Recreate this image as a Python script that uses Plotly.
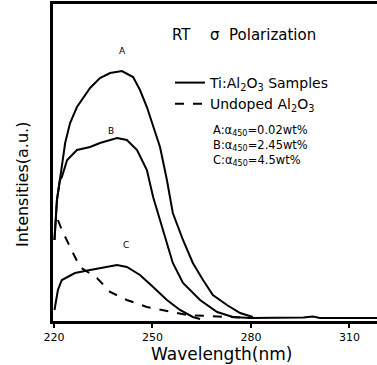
import plotly.graph_objects as go

# Wavelength (nm) / intensity (a.u.)
a_x = [220.15, 220.9, 221.8, 222.4, 223.4, 224.9, 227.0, 231.0, 234.0, 237.1, 240.7, 244.1, 246.2, 248.3,
       250.2, 252.3, 254.4, 256.2, 259.3, 262.3, 265.4, 268.4, 272.7, 276.7, 280.6]
a_y = [81, 121, 141, 154, 178, 198, 214, 233, 243, 248, 250, 244, 231, 214,
       194, 174, 141, 108, 81, 58, 41, 26, 16, 8, 4]

b_x = [220.15, 220.9, 221.8, 222.4, 224.0, 227.0, 231.0, 234.0, 239.2, 242.2, 245.3, 248.3,
       250.2, 253.2, 256.2, 259.3, 264.5, 269.7, 274.5, 279.7]
b_y = [81, 121, 141, 144, 161, 171, 174, 178, 183, 181, 171, 151,
       124, 91, 58, 38, 21, 9, 4, 3]

c_x = [220.15, 220.3, 221.2, 222.4, 224.0, 226.4, 231.0, 235.5, 239.2, 242.2, 246.2, 250.2,
       254.4, 258.4, 262.3, 264.5]
c_y = [11, 14, 31, 41, 44, 48, 51, 54, 56, 54, 46, 34,
       21, 11, 4, 2]

und_x = [221.2, 222.4, 224.9, 227.9, 233.1, 237.1, 242.2, 248.3, 254.4, 260.5, 266.6, 274.5, 279.7]
und_y = [101, 91, 74, 54, 43, 29, 21, 14, 10, 6, 5, 4, 3]

tail_x = [279.7, 284.0, 288.0, 292.0, 296.0, 298.9, 301.0, 305.0, 310.0, 315.0, 318.4]
tail_y = [3, 3, 3.5, 3, 3.5, 4.5, 3, 3, 3, 3, 3]

tick_vals = [220, 250, 280, 310]
tick_text = ["220", "250", "280", "310"]

sample_notes = ["A:α<sub>450</sub>=0.02wt%", "B:α<sub>450</sub>=2.45wt%", "C:α<sub>450</sub>=4.5wt%"]

FONT = "DejaVu Sans"
line = dict(color="black", width=2)

fig = go.Figure()
fig.add_trace(go.Scatter(x=a_x, y=a_y, mode="lines", line=line, name="Ti:Al<sub>2</sub>O<sub>3</sub> Samples"))
fig.add_trace(go.Scatter(x=b_x, y=b_y, mode="lines", line=line, showlegend=False))
fig.add_trace(go.Scatter(x=c_x, y=c_y, mode="lines", line=line, showlegend=False))
fig.add_trace(go.Scatter(x=und_x, y=und_y, mode="lines", line=dict(color="black", width=2, dash="dash"),
                         name="Undoped Al<sub>2</sub>O<sub>3</sub>"))
fig.add_trace(go.Scatter(x=tail_x, y=tail_y, mode="lines", line=line, showlegend=False))

lab = dict(showarrow=False, font=dict(family=FONT, size=9, color="black"))
fig.add_annotation(x=241, y=270, text="A", **lab)
fig.add_annotation(x=237.5, y=190, text="B", **lab)
fig.add_annotation(x=242, y=76, text="C", **lab)

ann = dict(showarrow=False, font=dict(family=FONT, size=15, color="black"), xref="paper", yref="paper",
           xanchor="left", yanchor="middle")
fig.add_annotation(x=(170 - 53) / 324, y=(321 - 35) / 317, text="RT", **ann)
fig.add_annotation(x=(208 - 53) / 324, y=(321 - 35) / 317, text="σ  Polarization", **ann)
fig.add_annotation(x=(211 - 53) / 324, y=(321 - 145) / 317, text="<br>".join(sample_notes),
                   showarrow=False, align="left", xref="paper", yref="paper",
                   xanchor="left", yanchor="middle",
                   font=dict(family=FONT, size=11.5, color="black"))

fig.add_annotation(xref="paper", yref="paper", x=(22 - 53) / 324, y=(321 - 185) / 317,
                   xanchor="center", yanchor="middle",
                   text="Intensities(a.u.)", textangle=-90, showarrow=False,
                   font=dict(family=FONT, size=16, color="black"))
fig.add_annotation(xref="paper", yref="paper", x=(221 - 53) / 324, y=-(354 - 321) / 317,
                   xanchor="center", yanchor="middle",
                   text="Wavelength(nm)", showarrow=False,
                   font=dict(family=FONT, size=17, color="black"))

fig.update_layout(
    width=377, height=365,
    margin=dict(l=53, r=0, t=4, b=44),
    paper_bgcolor="white", plot_bgcolor="white",
    font=dict(family=FONT, color="black"),
    legend=dict(x=(170 - 53) / 324, y=(321 - 67) / 317, xanchor="left", yanchor="top",
                bgcolor="rgba(0,0,0,0)", font=dict(family=FONT, size=14, color="black"),
                tracegroupgap=0, itemwidth=30),
    xaxis=dict(range=[219.7, 318.4], showgrid=False, zeroline=False, showline=True, linecolor="black",
               linewidth=2.5, mirror=True, ticks="outside", ticklen=4, tickwidth=2, tickcolor="black",
               tickvals=tick_vals, ticktext=tick_text, tickfont=dict(family=FONT, size=11, color="black"),
               automargin=False),
    yaxis=dict(range=[0, 317], showgrid=False, zeroline=False, showline=True, linecolor="black",
               linewidth=2.5, showticklabels=False, ticks="", automargin=False),
)

fig.write_html("out.html", config={"displayModeBar": False},
               post_script="document.body.style.margin='0';document.body.style.overflow='hidden';")
